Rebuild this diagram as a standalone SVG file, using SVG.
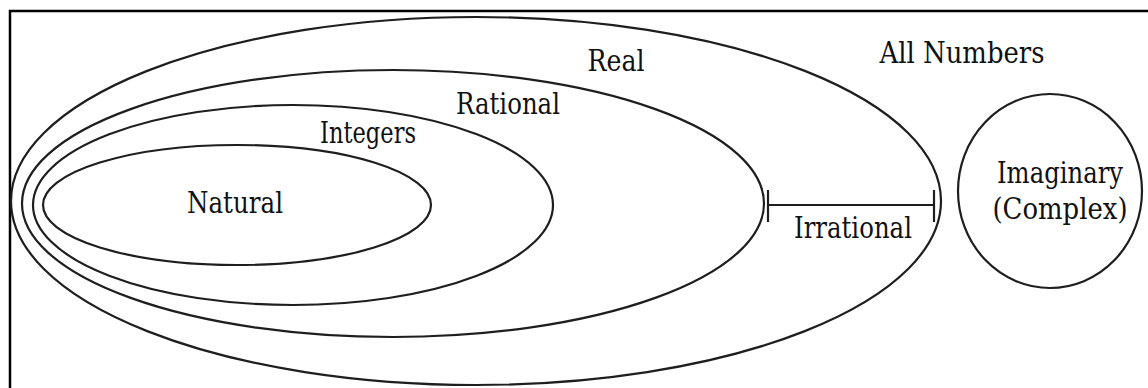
<svg xmlns="http://www.w3.org/2000/svg" width="1148" height="388" viewBox="0 0 1148 388">
<style>
.set{fill:none;stroke:#1e1e1e;stroke-width:2.2}
.lbl{font-family:'DejaVu Serif',serif;font-size:29px;fill:#111;text-anchor:middle}
.bar{stroke:#1e1e1e;stroke-width:2.2;fill:none}
</style>
<rect x="0" y="0" width="1148" height="388" fill="#fff"/>
<rect x="10" y="11" width="1200" height="420" fill="none" stroke="#000" stroke-width="2.5"/>
<g id="real">
<ellipse class="set" cx="476" cy="201" rx="465" ry="184"/>
<text class="lbl" x="616" y="71" textLength="57" lengthAdjust="spacingAndGlyphs">Real</text>
</g>
<g id="rational">
<ellipse class="set" cx="393" cy="203.5" rx="371" ry="133.5"/>
<text class="lbl" x="508" y="114" textLength="104" lengthAdjust="spacingAndGlyphs">Rational</text>
</g>
<g id="integers">
<ellipse class="set" cx="293" cy="205" rx="260" ry="100"/>
<text class="lbl" x="368" y="143" textLength="96" lengthAdjust="spacingAndGlyphs">Integers</text>
</g>
<g id="natural">
<ellipse class="set" cx="237" cy="205" rx="194" ry="60"/>
<text class="lbl" x="235" y="213" textLength="96" lengthAdjust="spacingAndGlyphs">Natural</text>
</g>
<g id="all-numbers">
<text class="lbl" x="962" y="63" textLength="165" lengthAdjust="spacingAndGlyphs">All Numbers</text>
</g>
<g id="imaginary">
<ellipse class="set" cx="1050" cy="191" rx="92" ry="97"/>
<text class="lbl" x="1060" y="183" textLength="126" lengthAdjust="spacingAndGlyphs">Imaginary</text>
<text class="lbl" x="1060" y="219" textLength="135" lengthAdjust="spacingAndGlyphs">(Complex)</text>
</g>
<g id="connectors">
<g id="irrational">
<line class="bar" x1="768" y1="205" x2="934" y2="205"/>
<line class="bar" x1="768" y1="190" x2="768" y2="222"/>
<line class="bar" x1="934" y1="190" x2="934" y2="222"/>
<text class="lbl" x="853" y="238" textLength="118" lengthAdjust="spacingAndGlyphs">Irrational</text>
</g>
</g>
</svg>
